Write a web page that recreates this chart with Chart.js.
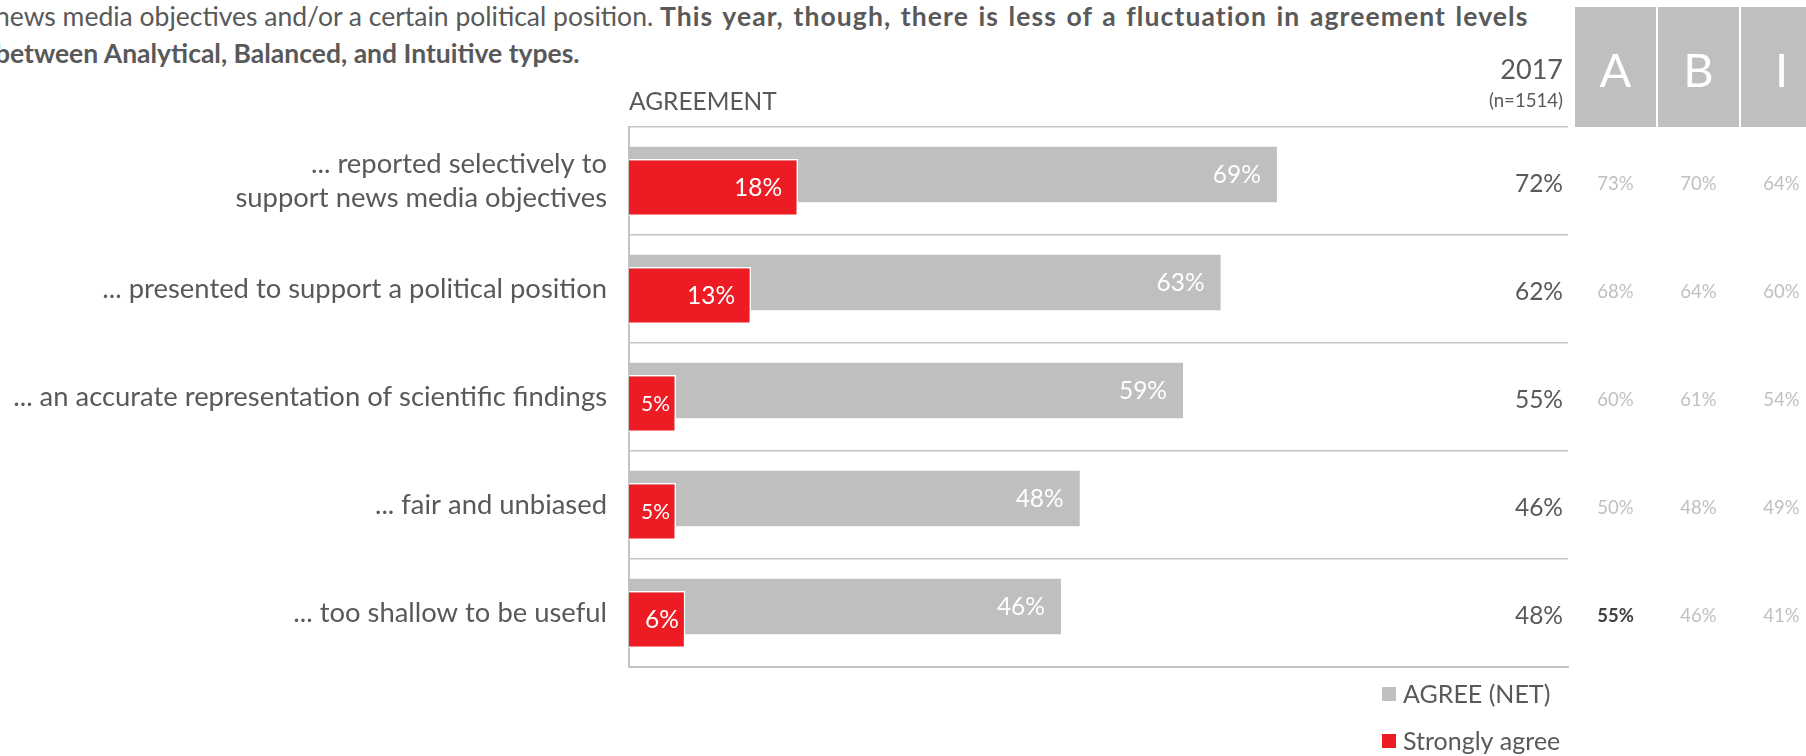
<!DOCTYPE html>
<html>
<head>
<meta charset="utf-8">
<script src="https://cdn.jsdelivr.net/npm/chart.js@4.4.1/dist/chart.umd.min.js"></script>
<style>
  html, body { margin: 0; padding: 0; background: #fff; }
  body { width: 1806px; height: 756px; position: relative; overflow: hidden; font-family: Lato, sans-serif; color: #595959; }
  .intro { position: absolute; left: -5px; top: -2px; font-size: 26.5px; line-height: 37px; white-space: nowrap; }
  .intro b { font-weight: 700; }
  .intro .wide { letter-spacing: 1.1px; word-spacing: 2px; }
  .wrap { position: absolute; left: 0; top: 0; width: 1806px; height: 756px; }
</style>
</head>
<body>
<div class="intro">news media objectives and/or a certain political position. <b class="wide">This year, though, there is less of a fluctuation in agreement levels</b><br><b>between Analytical, Balanced, and Intuitive types.</b></div>
<div class="wrap"><canvas id="chart"></canvas></div>
<script>
const CATEGORIES = [
  ["... reported selectively to", "support news media objectives"],
  "... presented to support a political position",
  "... an accurate representation of scientific findings",
  "... fair and unbiased",
  "... too shallow to be useful",
];
const AGREE_NET = [69, 63, 59, 48, 46];
const STRONGLY_AGREE = [18, 13, 5, 5, 6];
const YEAR_2017 = [72, 62, 55, 46, 48];
const TYPE_A = [73, 68, 60, 50, 55];
const TYPE_B = [70, 64, 61, 48, 46];
const TYPE_I = [64, 60, 54, 49, 41];
const TYPE_HEADERS = ["A", "B", "I"];
const TYPE_VALUES = [TYPE_A, TYPE_B, TYPE_I];
const TYPE_BOLD = [[4], [], []]; // rows shown in bold, per type column

const GREY = "#bfbfbf";
const RED = "#ed1c24";
const TEXT = "#595959";
const LINE = "#c4c4c4";
const FONT = "Lato, sans-serif";

const pct = (v) => `${v}%`;

// grey bars sit in the upper slot, but the red ones are painted over them
const redOnTop = {
  id: "redOnTop",
  beforeDatasetDraw(chart, args) {
    if (args.index === 1) return false;
  },
  afterDatasetsDraw(chart) {
    chart.getDatasetMeta(1).controller.draw();
  },
};

// value labels at the inner end of each bar, shrunk when the bar is too short
const barLabels = {
  id: "barLabels",
  afterDraw(chart) {
    const ctx = chart.ctx;
    ctx.save();
    ctx.fillStyle = "#fff";
    ctx.textAlign = "right";
    ctx.textBaseline = "middle";
    chart.data.datasets.forEach((ds, di) => {
      chart.getDatasetMeta(di).data.forEach((bar, i) => {
        const text = pct(ds.data[i]);
        const barW = bar.x - bar.base;
        let size = 24.5;
        ctx.font = `${size}px ${FONT}`;
        let w = ctx.measureText(text).width;
        if (w + 20 > barW) {
          size = (size * (barW - 18)) / w;
          ctx.font = `${size}px ${FONT}`;
          w = ctx.measureText(text).width;
        }
        const pad = Math.max(6, Math.min(16, barW - w - 16));
        ctx.fillText(text, bar.x - pad, bar.y + 1);
      });
    });
    ctx.restore();
  },
};

const sideTable = {
  id: "sideTable",
  afterDraw(chart) {
    const { ctx, chartArea: area, scales } = chart;
    const y = scales.y;
    const colW = 83;
    const col0 = area.right + 7;
    ctx.save();

    // header over the bars
    ctx.fillStyle = TEXT;
    ctx.textBaseline = "middle";
    ctx.textAlign = "left";
    ctx.font = `24.5px ${FONT}`;
    ctx.fillText("AGREEMENT", area.left, area.top - 25);
    ctx.textAlign = "right";
    ctx.font = `27px ${FONT}`;
    ctx.fillText("2017", area.right - 5, area.top - 57);
    ctx.font = `18.6px ${FONT}`;
    ctx.fillText("(n=1514)", area.right - 5, area.top - 26);

    // type header boxes
    TYPE_HEADERS.forEach((h, c) => {
      const x = col0 + c * colW;
      ctx.fillStyle = GREY;
      ctx.fillRect(x, area.top - 120, colW - 2, 120);
      ctx.fillStyle = "#fff";
      ctx.textAlign = "center";
      ctx.font = `47px ${FONT}`;
      ctx.fillText(h, x + (colW - 2) / 2, area.top - 55);
    });

    // 2017 totals and per-type values
    YEAR_2017.forEach((v, i) => {
      const py = y.getPixelForTick(i) + 3;
      ctx.fillStyle = TEXT;
      ctx.textAlign = "right";
      ctx.font = `24.5px ${FONT}`;
      ctx.fillText(pct(v), area.right - 5, py);
      TYPE_VALUES.forEach((vals, c) => {
        const bold = TYPE_BOLD[c].includes(i);
        ctx.fillStyle = bold ? "#404040" : "#c0c0c0";
        ctx.font = `${bold ? "bold " : ""}18.5px ${FONT}`;
        ctx.textAlign = "center";
        ctx.fillText(pct(vals[i]), col0 + c * colW + (colW - 2) / 2, py);
      });
    });

    // legend, stacked under the plot
    chart.data.datasets.forEach((ds, di) => {
      const lx = area.right - 186;
      const ly = area.bottom + 27 + di * 47;
      ctx.fillStyle = ds.backgroundColor;
      ctx.fillRect(lx, ly - 7, 14, 14);
      ctx.fillStyle = TEXT;
      ctx.textAlign = "left";
      ctx.font = `25px ${FONT}`;
      ctx.fillText(ds.label, lx + 21, ly + 1);
    });
    ctx.restore();
  },
};

new Chart(document.getElementById("chart"), {
  type: "bar",
  data: {
    labels: CATEGORIES,
    datasets: [
      {
        label: "AGREE (NET)", data: AGREE_NET, backgroundColor: GREY,
        categoryPercentage: 0.2407, barPercentage: 4.27,
      },
      {
        label: "Strongly agree", data: STRONGLY_AGREE, backgroundColor: RED,
        borderColor: "#fff", borderWidth: 1.5,
        categoryPercentage: 0.2407, barPercentage: 4.4,
      },
    ],
  },
  options: {
    indexAxis: "y",
    responsive: true,
    maintainAspectRatio: false,
    animation: false,
    layout: { padding: { top: 127, right: 238, bottom: 89, left: 0 } },
    plugins: { legend: { display: false }, tooltip: { enabled: false } },
    scales: {
      x: {
        min: 0, max: 100,
        ticks: { display: false },
        grid: { display: false, drawTicks: false },
        border: { display: true, color: LINE, width: 2 },
      },
      y: {
        afterFit: (scale) => { scale.width = 629; },
        ticks: { color: TEXT, padding: 22, font: { family: FONT, size: 27.4, lineHeight: 1.24 } },
        grid: { offset: true, color: LINE, lineWidth: 1.5, drawTicks: false },
        border: { display: true, color: LINE, width: 2 },
      },
    },
  },
  plugins: [redOnTop, barLabels, sideTable],
});
</script>
</body>
</html>
